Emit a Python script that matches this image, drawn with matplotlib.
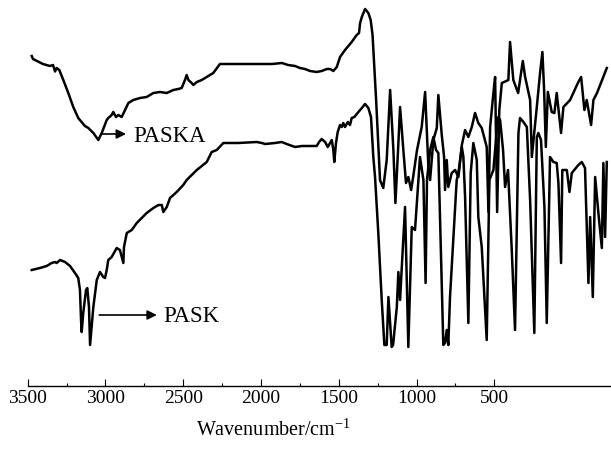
import matplotlib
matplotlib.use("Agg")
import matplotlib.pyplot as plt
from matplotlib.ticker import FixedLocator

# PASKA spectrum (upper trace), wavenumber / transmittance (a.u.)
paska_wn = [3474, 3466, 3402, 3357, 3337, 3324, 3314, 3297, 3271, 3239,
            3207, 3175, 3132, 3110, 3078, 3046, 3024, 2992, 2982, 2960,
            2950, 2932, 2917, 2896, 2874, 2853, 2821, 2778, 2735, 2692,
            2649, 2606, 2564, 2532, 2510, 2489, 2478, 2467, 2446, 2435,
            2413, 2381, 2349, 2307, 2264, 2212, 1929, 1865, 1826, 1781,
            1749, 1717, 1685, 1642, 1610, 1577, 1556, 1535, 1513, 1492,
            1460, 1417, 1385, 1370, 1363, 1352, 1331, 1310, 1295, 1283,
            1260, 1235, 1214, 1192, 1170, 1149, 1136, 1119, 1106, 1085,
            1068, 1053, 1035, 1021, 997, 967, 945, 924, 913, 892,
            870, 860, 838, 823, 817, 806, 796, 774, 752, 731,
            709, 688, 667, 645, 624, 603, 581, 549, 538, 527,
            506, 495, 482, 468, 452, 437, 410, 399, 378, 347,
            317, 302, 270, 259, 227, 206, 191, 180, 169, 156,
            131, 114, 99, 71, 56, 13, -40, -58, -79, -94,
            -122, -137, -160, -223]
paska_t = [330, 327, 322, 320, 321, 314.5, 318, 316, 306, 293,
           279, 268, 260, 258, 253, 246, 253, 266, 268, 271,
           274, 269, 271, 269, 276, 283, 286, 288, 289, 293,
           294, 293, 296, 297, 298, 306, 311, 306, 303, 301,
           304, 306, 309, 313, 322, 322, 322, 323, 321, 320,
           318, 317, 315, 314, 315, 317, 317, 315, 319, 329,
           336, 344, 351, 353, 363, 369, 377, 373, 366, 351,
           286, 206, 198, 226, 296, 236, 183, 236, 279, 236,
           203, 209, 196, 210, 236, 259, 294, 219, 206, 246,
           258, 291, 251, 229, 196, 226, 199, 213, 216, 209,
           241, 256, 249, 259, 273, 263, 258, 239, 174, 259,
           293, 309, 174, 276, 303, 304, 306, 344, 306, 293,
           325, 309, 286, 229, 279, 313, 334, 296, 239, 294,
           274, 273, 293, 253, 279, 286, 304, 309, 276, 286,
           261, 286, 293, 318]

# PASK spectrum (lower trace)
pask_wn = [3474, 3421, 3378, 3346, 3324, 3314, 3292, 3260, 3228, 3196,
           3175, 3164, 3157, 3153, 3143, 3125, 3117, 3106, 3099, 3078,
           3056, 3035, 3014, 3003, 2992, 2982, 2960, 2928, 2907, 2885,
           2881, 2863, 2831, 2799, 2767, 2735, 2692, 2660, 2638, 2628,
           2606, 2585, 2542, 2500, 2478, 2413, 2349, 2317, 2285, 2242,
           2146, 2028, 1995, 1974, 1910, 1867, 1835, 1781, 1738, 1642,
           1627, 1610, 1588, 1571, 1556, 1545, 1535, 1529, 1518, 1507,
           1492, 1481, 1471, 1460, 1442, 1428, 1417, 1400, 1374, 1352,
           1331, 1310, 1293, 1278, 1267, 1246, 1224, 1207, 1192, 1181,
           1160, 1151, 1127, 1117, 1106, 1095, 1074, 1053, 1031, 1010,
           978, 956, 942, 933, 913, 892, 875, 860, 828, 817,
           806, 796, 785, 763, 742, 731, 709, 699, 688, 667,
           652, 635, 613, 603, 581, 549, 532, 506, 484, 474,
           463, 444, 431, 412, 388, 367, 345, 335, 313, 291,
           270, 243, 227, 217, 200, 178, 163, 142, 120, 99,
           88, 71, 63, 34, 17, 2, -40, -62, -83, -105,
           -116, -133, -148, -169, -191, -201, -212, -223]
pask_t = [116, 118, 120, 123, 124, 123, 126, 124, 120, 113,
          108, 96, 66, 54, 73, 96, 98, 79, 41, 79,
          106, 114, 109, 108, 116, 126, 129, 138, 136, 123,
          139, 153, 156, 163, 168, 173, 178, 181, 181, 174,
          179, 188, 194, 201, 206, 216, 224, 234, 236, 243,
          243, 244, 243, 242, 243, 244, 242, 239, 240, 240,
          244, 247, 244, 239, 243, 246, 236, 224, 243, 254,
          261, 259, 263, 259, 264, 261, 268, 269, 274, 278,
          282, 278, 269, 229, 209, 153, 86, 41, 41, 89,
          39, 41, 79, 114, 86, 119, 179, 39, 159, 156,
          229, 206, 103, 206, 236, 249, 236, 233, 41, 43,
          56, 41, 89, 149, 206, 213, 239, 229, 189, 63,
          213, 243, 226, 169, 139, 46, 206, 216, 256, 269,
          266, 236, 199, 216, 136, 56, 253, 268, 264, 259,
          186, 53, 249, 253, 246, 179, 63, 229, 224, 223,
          203, 123, 216, 216, 194, 213, 221, 224, 218, 103,
          169, 89, 209, 173, 138, 223, 149, 224]

major_ticks = [3500, 3000, 2500, 2000, 1500, 1000, 500]
minor_ticks = [3250, 2750, 2250, 1750, 1250, 750]

plt.rcParams["font.family"] = "Liberation Serif"
plt.rcParams["mathtext.fontset"] = "custom"
plt.rcParams["mathtext.rm"] = "Liberation Serif"

fig = plt.figure(figsize=(6.11, 4.49), dpi=100)
ax = fig.add_axes([27.7 / 611, 63 / 449, 583.3 / 611, 386 / 449])

ax.plot(paska_wn, paska_t, color="black", lw=1.8, solid_joinstyle="round")
ax.plot(pask_wn, pask_t, color="black", lw=1.8, solid_joinstyle="round")

ax.set_xlim(3500, -250)
ax.set_ylim(0, 386)

for s in ["top", "left", "right"]:
    ax.spines[s].set_visible(False)
ax.spines["bottom"].set_linewidth(1.0)
ax.set_yticks([])
ax.xaxis.set_major_locator(FixedLocator(major_ticks))
ax.xaxis.set_minor_locator(FixedLocator(minor_ticks))
ax.tick_params(axis="x", which="major", direction="in", length=5, width=0.8,
               labelsize=14, pad=3)
ax.tick_params(axis="x", which="minor", direction="in", length=2.5, width=0.8)

ax.set_xlabel("Wavenumber/cm$^{-1}$", fontsize=14.5)
ax.xaxis.set_label_coords(0.422, -0.085)

# labels with arrows
ax.annotate("", xy=(2868, 252), xytext=(3024, 252),
            arrowprops=dict(arrowstyle="-|>", color="black", lw=1.2,
                            mutation_scale=14, shrinkA=0, shrinkB=0))
ax.text(2821, 244, "PASKA", fontsize=16.4, va="baseline", ha="left")
ax.annotate("", xy=(2670, 71), xytext=(3040, 71),
            arrowprops=dict(arrowstyle="-|>", color="black", lw=1.2,
                            mutation_scale=14, shrinkA=0, shrinkB=0))
ax.text(2628, 64, "PASK", fontsize=16.4, va="baseline", ha="left")

fig.savefig("out.png", dpi=100)
